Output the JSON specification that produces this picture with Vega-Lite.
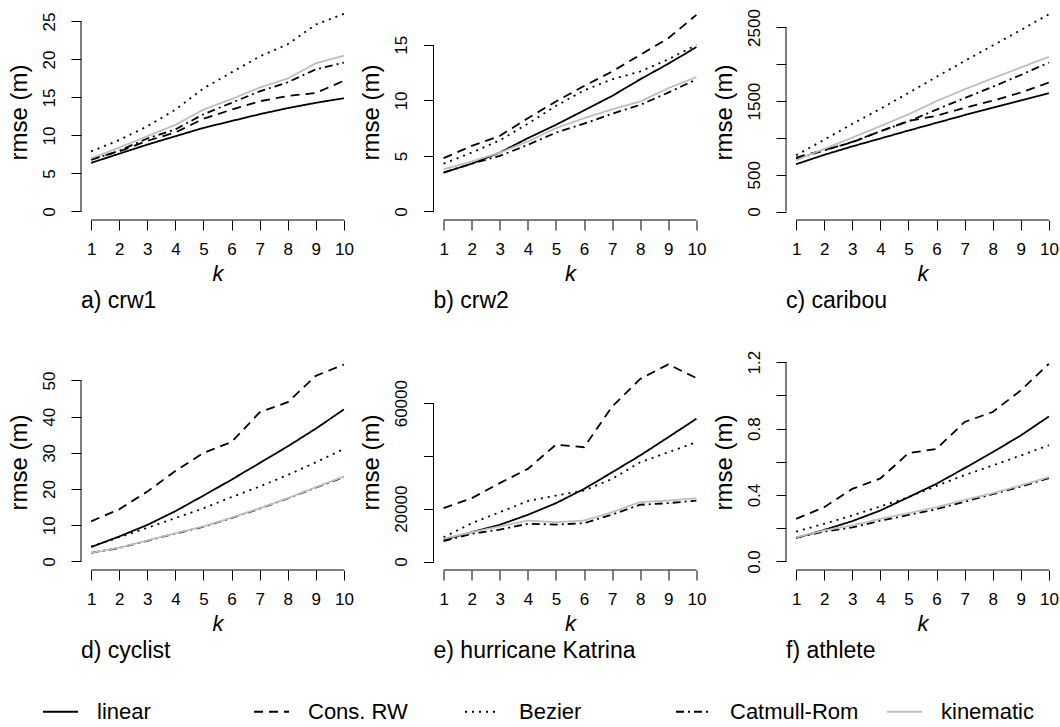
{
  "$schema": "https://vega.github.io/schema/vega-lite/v6.json",
  "padding": {"left": 7, "top": 4, "right": 0, "bottom": 0},
  "datasets": {
    "rmse": [
      {"panel":"a","method":"linear","k":1,"rmse":6.4},{"panel":"a","method":"linear","k":2,"rmse":7.6},{"panel":"a","method":"linear","k":3,"rmse":8.8},{"panel":"a","method":"linear","k":4,"rmse":9.9},{"panel":"a","method":"linear","k":5,"rmse":11.0},{"panel":"a","method":"linear","k":6,"rmse":11.9},{"panel":"a","method":"linear","k":7,"rmse":12.8},{"panel":"a","method":"linear","k":8,"rmse":13.6},{"panel":"a","method":"linear","k":9,"rmse":14.3},{"panel":"a","method":"linear","k":10,"rmse":14.9},
      {"panel":"a","method":"Cons. RW","k":1,"rmse":6.9},{"panel":"a","method":"Cons. RW","k":2,"rmse":7.9},{"panel":"a","method":"Cons. RW","k":3,"rmse":9.3},{"panel":"a","method":"Cons. RW","k":4,"rmse":10.4},{"panel":"a","method":"Cons. RW","k":5,"rmse":12.2},{"panel":"a","method":"Cons. RW","k":6,"rmse":13.4},{"panel":"a","method":"Cons. RW","k":7,"rmse":14.5},{"panel":"a","method":"Cons. RW","k":8,"rmse":15.2},{"panel":"a","method":"Cons. RW","k":9,"rmse":15.6},{"panel":"a","method":"Cons. RW","k":10,"rmse":17.2},
      {"panel":"a","method":"Bezier","k":1,"rmse":7.9},{"panel":"a","method":"Bezier","k":2,"rmse":9.4},{"panel":"a","method":"Bezier","k":3,"rmse":11.2},{"panel":"a","method":"Bezier","k":4,"rmse":13.4},{"panel":"a","method":"Bezier","k":5,"rmse":16.2},{"panel":"a","method":"Bezier","k":6,"rmse":18.3},{"panel":"a","method":"Bezier","k":7,"rmse":20.4},{"panel":"a","method":"Bezier","k":8,"rmse":22.0},{"panel":"a","method":"Bezier","k":9,"rmse":24.6},{"panel":"a","method":"Bezier","k":10,"rmse":26.0},
      {"panel":"a","method":"Catmull-Rom","k":1,"rmse":6.8},{"panel":"a","method":"Catmull-Rom","k":2,"rmse":8.0},{"panel":"a","method":"Catmull-Rom","k":3,"rmse":9.6},{"panel":"a","method":"Catmull-Rom","k":4,"rmse":10.8},{"panel":"a","method":"Catmull-Rom","k":5,"rmse":12.8},{"panel":"a","method":"Catmull-Rom","k":6,"rmse":14.3},{"panel":"a","method":"Catmull-Rom","k":7,"rmse":15.8},{"panel":"a","method":"Catmull-Rom","k":8,"rmse":17.0},{"panel":"a","method":"Catmull-Rom","k":9,"rmse":18.7},{"panel":"a","method":"Catmull-Rom","k":10,"rmse":19.6},
      {"panel":"a","method":"kinematic","k":1,"rmse":7.0},{"panel":"a","method":"kinematic","k":2,"rmse":8.4},{"panel":"a","method":"kinematic","k":3,"rmse":9.9},{"panel":"a","method":"kinematic","k":4,"rmse":11.4},{"panel":"a","method":"kinematic","k":5,"rmse":13.4},{"panel":"a","method":"kinematic","k":6,"rmse":14.8},{"panel":"a","method":"kinematic","k":7,"rmse":16.3},{"panel":"a","method":"kinematic","k":8,"rmse":17.5},{"panel":"a","method":"kinematic","k":9,"rmse":19.5},{"panel":"a","method":"kinematic","k":10,"rmse":20.5},

      {"panel":"b","method":"linear","k":1,"rmse":3.5},{"panel":"b","method":"linear","k":2,"rmse":4.3},{"panel":"b","method":"linear","k":3,"rmse":5.3},{"panel":"b","method":"linear","k":4,"rmse":6.6},{"panel":"b","method":"linear","k":5,"rmse":7.8},{"panel":"b","method":"linear","k":6,"rmse":9.1},{"panel":"b","method":"linear","k":7,"rmse":10.4},{"panel":"b","method":"linear","k":8,"rmse":11.9},{"panel":"b","method":"linear","k":9,"rmse":13.3},{"panel":"b","method":"linear","k":10,"rmse":14.8},
      {"panel":"b","method":"Cons. RW","k":1,"rmse":4.8},{"panel":"b","method":"Cons. RW","k":2,"rmse":5.9},{"panel":"b","method":"Cons. RW","k":3,"rmse":6.8},{"panel":"b","method":"Cons. RW","k":4,"rmse":8.4},{"panel":"b","method":"Cons. RW","k":5,"rmse":9.9},{"panel":"b","method":"Cons. RW","k":6,"rmse":11.3},{"panel":"b","method":"Cons. RW","k":7,"rmse":12.6},{"panel":"b","method":"Cons. RW","k":8,"rmse":14.1},{"panel":"b","method":"Cons. RW","k":9,"rmse":15.6},{"panel":"b","method":"Cons. RW","k":10,"rmse":17.7},
      {"panel":"b","method":"Bezier","k":1,"rmse":4.3},{"panel":"b","method":"Bezier","k":2,"rmse":5.3},{"panel":"b","method":"Bezier","k":3,"rmse":6.4},{"panel":"b","method":"Bezier","k":4,"rmse":7.9},{"panel":"b","method":"Bezier","k":5,"rmse":9.5},{"panel":"b","method":"Bezier","k":6,"rmse":10.9},{"panel":"b","method":"Bezier","k":7,"rmse":11.9},{"panel":"b","method":"Bezier","k":8,"rmse":12.6},{"panel":"b","method":"Bezier","k":9,"rmse":13.7},{"panel":"b","method":"Bezier","k":10,"rmse":15.0},
      {"panel":"b","method":"Catmull-Rom","k":1,"rmse":3.5},{"panel":"b","method":"Catmull-Rom","k":2,"rmse":4.3},{"panel":"b","method":"Catmull-Rom","k":3,"rmse":5.0},{"panel":"b","method":"Catmull-Rom","k":4,"rmse":6.0},{"panel":"b","method":"Catmull-Rom","k":5,"rmse":7.1},{"panel":"b","method":"Catmull-Rom","k":6,"rmse":7.9},{"panel":"b","method":"Catmull-Rom","k":7,"rmse":8.8},{"panel":"b","method":"Catmull-Rom","k":8,"rmse":9.6},{"panel":"b","method":"Catmull-Rom","k":9,"rmse":10.7},{"panel":"b","method":"Catmull-Rom","k":10,"rmse":11.9},
      {"panel":"b","method":"kinematic","k":1,"rmse":3.8},{"panel":"b","method":"kinematic","k":2,"rmse":4.5},{"panel":"b","method":"kinematic","k":3,"rmse":5.3},{"panel":"b","method":"kinematic","k":4,"rmse":6.3},{"panel":"b","method":"kinematic","k":5,"rmse":7.5},{"panel":"b","method":"kinematic","k":6,"rmse":8.4},{"panel":"b","method":"kinematic","k":7,"rmse":9.2},{"panel":"b","method":"kinematic","k":8,"rmse":9.9},{"panel":"b","method":"kinematic","k":9,"rmse":11.1},{"panel":"b","method":"kinematic","k":10,"rmse":12.1},

      {"panel":"c","method":"linear","k":1,"rmse":643},{"panel":"c","method":"linear","k":2,"rmse":770},{"panel":"c","method":"linear","k":3,"rmse":885},{"panel":"c","method":"linear","k":4,"rmse":992},{"panel":"c","method":"linear","k":5,"rmse":1100},{"panel":"c","method":"linear","k":6,"rmse":1205},{"panel":"c","method":"linear","k":7,"rmse":1310},{"panel":"c","method":"linear","k":8,"rmse":1410},{"panel":"c","method":"linear","k":9,"rmse":1510},{"panel":"c","method":"linear","k":10,"rmse":1608},
      {"panel":"c","method":"Cons. RW","k":1,"rmse":734},{"panel":"c","method":"Cons. RW","k":2,"rmse":835},{"panel":"c","method":"Cons. RW","k":3,"rmse":940},{"panel":"c","method":"Cons. RW","k":4,"rmse":1090},{"panel":"c","method":"Cons. RW","k":5,"rmse":1230},{"panel":"c","method":"Cons. RW","k":6,"rmse":1300},{"panel":"c","method":"Cons. RW","k":7,"rmse":1410},{"panel":"c","method":"Cons. RW","k":8,"rmse":1505},{"panel":"c","method":"Cons. RW","k":9,"rmse":1617},{"panel":"c","method":"Cons. RW","k":10,"rmse":1753},
      {"panel":"c","method":"Bezier","k":1,"rmse":765},{"panel":"c","method":"Bezier","k":2,"rmse":975},{"panel":"c","method":"Bezier","k":3,"rmse":1190},{"panel":"c","method":"Bezier","k":4,"rmse":1395},{"panel":"c","method":"Bezier","k":5,"rmse":1610},{"panel":"c","method":"Bezier","k":6,"rmse":1830},{"panel":"c","method":"Bezier","k":7,"rmse":2045},{"panel":"c","method":"Bezier","k":8,"rmse":2255},{"panel":"c","method":"Bezier","k":9,"rmse":2465},{"panel":"c","method":"Bezier","k":10,"rmse":2680},
      {"panel":"c","method":"Catmull-Rom","k":1,"rmse":711},{"panel":"c","method":"Catmull-Rom","k":2,"rmse":830},{"panel":"c","method":"Catmull-Rom","k":3,"rmse":945},{"panel":"c","method":"Catmull-Rom","k":4,"rmse":1090},{"panel":"c","method":"Catmull-Rom","k":5,"rmse":1225},{"panel":"c","method":"Catmull-Rom","k":6,"rmse":1385},{"panel":"c","method":"Catmull-Rom","k":7,"rmse":1540},{"panel":"c","method":"Catmull-Rom","k":8,"rmse":1695},{"panel":"c","method":"Catmull-Rom","k":9,"rmse":1855},{"panel":"c","method":"Catmull-Rom","k":10,"rmse":2024},
      {"panel":"c","method":"kinematic","k":1,"rmse":697},{"panel":"c","method":"kinematic","k":2,"rmse":850},{"panel":"c","method":"kinematic","k":3,"rmse":1005},{"panel":"c","method":"kinematic","k":4,"rmse":1160},{"panel":"c","method":"kinematic","k":5,"rmse":1320},{"panel":"c","method":"kinematic","k":6,"rmse":1500},{"panel":"c","method":"kinematic","k":7,"rmse":1660},{"panel":"c","method":"kinematic","k":8,"rmse":1810},{"panel":"c","method":"kinematic","k":9,"rmse":1957},{"panel":"c","method":"kinematic","k":10,"rmse":2101},

      {"panel":"d","method":"linear","k":1,"rmse":4.0},{"panel":"d","method":"linear","k":2,"rmse":6.9},{"panel":"d","method":"linear","k":3,"rmse":10.1},{"panel":"d","method":"linear","k":4,"rmse":13.9},{"panel":"d","method":"linear","k":5,"rmse":18.2},{"panel":"d","method":"linear","k":6,"rmse":22.6},{"panel":"d","method":"linear","k":7,"rmse":27.2},{"panel":"d","method":"linear","k":8,"rmse":31.8},{"panel":"d","method":"linear","k":9,"rmse":36.7},{"panel":"d","method":"linear","k":10,"rmse":42.0},
      {"panel":"d","method":"Cons. RW","k":1,"rmse":11.1},{"panel":"d","method":"Cons. RW","k":2,"rmse":14.4},{"panel":"d","method":"Cons. RW","k":3,"rmse":19.3},{"panel":"d","method":"Cons. RW","k":4,"rmse":25.0},{"panel":"d","method":"Cons. RW","k":5,"rmse":30.0},{"panel":"d","method":"Cons. RW","k":6,"rmse":33.0},{"panel":"d","method":"Cons. RW","k":7,"rmse":41.2},{"panel":"d","method":"Cons. RW","k":8,"rmse":44.0},{"panel":"d","method":"Cons. RW","k":9,"rmse":51.3},{"panel":"d","method":"Cons. RW","k":10,"rmse":54.4},
      {"panel":"d","method":"Bezier","k":1,"rmse":4.1},{"panel":"d","method":"Bezier","k":2,"rmse":6.7},{"panel":"d","method":"Bezier","k":3,"rmse":9.3},{"panel":"d","method":"Bezier","k":4,"rmse":12.0},{"panel":"d","method":"Bezier","k":5,"rmse":14.7},{"panel":"d","method":"Bezier","k":6,"rmse":17.8},{"panel":"d","method":"Bezier","k":7,"rmse":20.7},{"panel":"d","method":"Bezier","k":8,"rmse":23.9},{"panel":"d","method":"Bezier","k":9,"rmse":27.4},{"panel":"d","method":"Bezier","k":10,"rmse":31.1},
      {"panel":"d","method":"Catmull-Rom","k":1,"rmse":2.4},{"panel":"d","method":"Catmull-Rom","k":2,"rmse":3.7},{"panel":"d","method":"Catmull-Rom","k":3,"rmse":5.7},{"panel":"d","method":"Catmull-Rom","k":4,"rmse":7.7},{"panel":"d","method":"Catmull-Rom","k":5,"rmse":9.6},{"panel":"d","method":"Catmull-Rom","k":6,"rmse":12.0},{"panel":"d","method":"Catmull-Rom","k":7,"rmse":14.6},{"panel":"d","method":"Catmull-Rom","k":8,"rmse":17.4},{"panel":"d","method":"Catmull-Rom","k":9,"rmse":20.4},{"panel":"d","method":"Catmull-Rom","k":10,"rmse":23.3},
      {"panel":"d","method":"kinematic","k":1,"rmse":2.4},{"panel":"d","method":"kinematic","k":2,"rmse":3.8},{"panel":"d","method":"kinematic","k":3,"rmse":5.8},{"panel":"d","method":"kinematic","k":4,"rmse":7.8},{"panel":"d","method":"kinematic","k":5,"rmse":9.7},{"panel":"d","method":"kinematic","k":6,"rmse":12.1},{"panel":"d","method":"kinematic","k":7,"rmse":14.7},{"panel":"d","method":"kinematic","k":8,"rmse":17.5},{"panel":"d","method":"kinematic","k":9,"rmse":20.5},{"panel":"d","method":"kinematic","k":10,"rmse":23.5},

      {"panel":"e","method":"linear","k":1,"rmse":8200},{"panel":"e","method":"linear","k":2,"rmse":11100},{"panel":"e","method":"linear","k":3,"rmse":13900},{"panel":"e","method":"linear","k":4,"rmse":17700},{"panel":"e","method":"linear","k":5,"rmse":22100},{"panel":"e","method":"linear","k":6,"rmse":27500},{"panel":"e","method":"linear","k":7,"rmse":33800},{"panel":"e","method":"linear","k":8,"rmse":40200},{"panel":"e","method":"linear","k":9,"rmse":47100},{"panel":"e","method":"linear","k":10,"rmse":54100},
      {"panel":"e","method":"Cons. RW","k":1,"rmse":20200},{"panel":"e","method":"Cons. RW","k":2,"rmse":24000},{"panel":"e","method":"Cons. RW","k":3,"rmse":29700},{"panel":"e","method":"Cons. RW","k":4,"rmse":35100},{"panel":"e","method":"Cons. RW","k":5,"rmse":44300},{"panel":"e","method":"Cons. RW","k":6,"rmse":43300},{"panel":"e","method":"Cons. RW","k":7,"rmse":58700},{"panel":"e","method":"Cons. RW","k":8,"rmse":69200},{"panel":"e","method":"Cons. RW","k":9,"rmse":74700},{"panel":"e","method":"Cons. RW","k":10,"rmse":69500},
      {"panel":"e","method":"Bezier","k":1,"rmse":9200},{"panel":"e","method":"Bezier","k":2,"rmse":14500},{"panel":"e","method":"Bezier","k":3,"rmse":18700},{"panel":"e","method":"Bezier","k":4,"rmse":22900},{"panel":"e","method":"Bezier","k":5,"rmse":25000},{"panel":"e","method":"Bezier","k":6,"rmse":26900},{"panel":"e","method":"Bezier","k":7,"rmse":31300},{"panel":"e","method":"Bezier","k":8,"rmse":37600},{"panel":"e","method":"Bezier","k":9,"rmse":41400},{"panel":"e","method":"Bezier","k":10,"rmse":45200},
      {"panel":"e","method":"Catmull-Rom","k":1,"rmse":7700},{"panel":"e","method":"Catmull-Rom","k":2,"rmse":10500},{"panel":"e","method":"Catmull-Rom","k":3,"rmse":12100},{"panel":"e","method":"Catmull-Rom","k":4,"rmse":14300},{"panel":"e","method":"Catmull-Rom","k":5,"rmse":14000},{"panel":"e","method":"Catmull-Rom","k":6,"rmse":14500},{"panel":"e","method":"Catmull-Rom","k":7,"rmse":17800},{"panel":"e","method":"Catmull-Rom","k":8,"rmse":21500},{"panel":"e","method":"Catmull-Rom","k":9,"rmse":22100},{"panel":"e","method":"Catmull-Rom","k":10,"rmse":23100},
      {"panel":"e","method":"kinematic","k":1,"rmse":8600},{"panel":"e","method":"kinematic","k":2,"rmse":11100},{"panel":"e","method":"kinematic","k":3,"rmse":13300},{"panel":"e","method":"kinematic","k":4,"rmse":15500},{"panel":"e","method":"kinematic","k":5,"rmse":14900},{"panel":"e","method":"kinematic","k":6,"rmse":15500},{"panel":"e","method":"kinematic","k":7,"rmse":18700},{"panel":"e","method":"kinematic","k":8,"rmse":22500},{"panel":"e","method":"kinematic","k":9,"rmse":23100},{"panel":"e","method":"kinematic","k":10,"rmse":24000},

      {"panel":"f","method":"linear","k":1,"rmse":0.142},{"panel":"f","method":"linear","k":2,"rmse":0.19},{"panel":"f","method":"linear","k":3,"rmse":0.243},{"panel":"f","method":"linear","k":4,"rmse":0.307},{"panel":"f","method":"linear","k":5,"rmse":0.387},{"panel":"f","method":"linear","k":6,"rmse":0.468},{"panel":"f","method":"linear","k":7,"rmse":0.562},{"panel":"f","method":"linear","k":8,"rmse":0.658},{"panel":"f","method":"linear","k":9,"rmse":0.759},{"panel":"f","method":"linear","k":10,"rmse":0.873},
      {"panel":"f","method":"Cons. RW","k":1,"rmse":0.257},{"panel":"f","method":"Cons. RW","k":2,"rmse":0.327},{"panel":"f","method":"Cons. RW","k":3,"rmse":0.437},{"panel":"f","method":"Cons. RW","k":4,"rmse":0.5},{"panel":"f","method":"Cons. RW","k":5,"rmse":0.652},{"panel":"f","method":"Cons. RW","k":6,"rmse":0.678},{"panel":"f","method":"Cons. RW","k":7,"rmse":0.84},{"panel":"f","method":"Cons. RW","k":8,"rmse":0.9},{"panel":"f","method":"Cons. RW","k":9,"rmse":1.03},{"panel":"f","method":"Cons. RW","k":10,"rmse":1.19},
      {"panel":"f","method":"Bezier","k":1,"rmse":0.18},{"panel":"f","method":"Bezier","k":2,"rmse":0.227},{"panel":"f","method":"Bezier","k":3,"rmse":0.277},{"panel":"f","method":"Bezier","k":4,"rmse":0.331},{"panel":"f","method":"Bezier","k":5,"rmse":0.387},{"panel":"f","method":"Bezier","k":6,"rmse":0.455},{"panel":"f","method":"Bezier","k":7,"rmse":0.52},{"panel":"f","method":"Bezier","k":8,"rmse":0.578},{"panel":"f","method":"Bezier","k":9,"rmse":0.638},{"panel":"f","method":"Bezier","k":10,"rmse":0.7},
      {"panel":"f","method":"Catmull-Rom","k":1,"rmse":0.144},{"panel":"f","method":"Catmull-Rom","k":2,"rmse":0.18},{"panel":"f","method":"Catmull-Rom","k":3,"rmse":0.205},{"panel":"f","method":"Catmull-Rom","k":4,"rmse":0.245},{"panel":"f","method":"Catmull-Rom","k":5,"rmse":0.28},{"panel":"f","method":"Catmull-Rom","k":6,"rmse":0.315},{"panel":"f","method":"Catmull-Rom","k":7,"rmse":0.36},{"panel":"f","method":"Catmull-Rom","k":8,"rmse":0.405},{"panel":"f","method":"Catmull-Rom","k":9,"rmse":0.45},{"panel":"f","method":"Catmull-Rom","k":10,"rmse":0.502},
      {"panel":"f","method":"kinematic","k":1,"rmse":0.146},{"panel":"f","method":"kinematic","k":2,"rmse":0.187},{"panel":"f","method":"kinematic","k":3,"rmse":0.217},{"panel":"f","method":"kinematic","k":4,"rmse":0.257},{"panel":"f","method":"kinematic","k":5,"rmse":0.291},{"panel":"f","method":"kinematic","k":6,"rmse":0.327},{"panel":"f","method":"kinematic","k":7,"rmse":0.371},{"panel":"f","method":"kinematic","k":8,"rmse":0.411},{"panel":"f","method":"kinematic","k":9,"rmse":0.458},{"panel":"f","method":"kinematic","k":10,"rmse":0.508}
    ]
  },
  "columns": 3,
  "bounds": "flush",
  "spacing": {"row": 134, "column": 79.5},
  "concat": [
    {
      "width": 273, "height": 216,
      "title": {"text": "a) crw1", "orient": "bottom", "anchor": "start", "frame": "group", "offset": 6},
      "layer": [
        {"data": {"name": "rmse"}, "transform": [{"filter": "datum.panel === 'a'"}],
         "mark": {"type": "line", "strokeWidth": 1.8},
         "encoding": {
           "x": {"field": "k", "type": "quantitative", "scale": {"domain": [0.64, 10.36], "nice": false, "zero": false}, "axis": {"values": [1,2,3,4,5,6,7,8,9,10], "tickCount": 20, "format": "d", "title": "k", "labelOverlap": false, "labelBound": false, "labelFlush": false}},
           "y": {"field": "rmse", "type": "quantitative", "scale": {"domain": [-1.12, 27.3], "nice": false, "zero": false}, "axis": {"values": [0,5,10,15,20,25], "tickCount": 20, "format": "d", "title": "rmse (m)", "labelOverlap": false}},
           "color": {"field": "method", "type": "nominal", "scale": {"domain": ["linear","Cons. RW","Bezier","Catmull-Rom","kinematic"], "range": ["black","black","black","black","#bebebe"]}, "legend": {"title": null, "orient": "none", "legendX": -39, "legendY": 689, "direction": "horizontal", "columns": 5}},
           "strokeDash": {"field": "method", "type": "nominal", "scale": {"domain": ["linear","Cons. RW","Bezier","Catmull-Rom","kinematic"], "range": [[1,0],[9,6],[2,5],[8,4,2,4],[1,0]]}, "legend": {"title": null, "orient": "none", "legendX": -39, "legendY": 689, "direction": "horizontal", "columns": 5}}
         }},
        {"data": {"values": [{}]}, "mark": {"type": "rule", "color": "black"}, "encoding": {"x": {"datum": 0.64}, "y": {"datum": 0}, "y2": {"datum": 25}}},
        {"data": {"values": [{}]}, "mark": {"type": "rule", "color": "black"}, "encoding": {"x": {"datum": 1}, "x2": {"datum": 10}, "y": {"datum": -1.12}}}
      ]
    },
    {
      "width": 273, "height": 216,
      "title": {"text": "b) crw2", "orient": "bottom", "anchor": "start", "frame": "group", "offset": 6},
      "layer": [
        {"data": {"name": "rmse"}, "transform": [{"filter": "datum.panel === 'b'"}],
         "mark": {"type": "line", "strokeWidth": 1.8},
         "encoding": {
           "x": {"field": "k", "type": "quantitative", "scale": {"domain": [0.64, 10.36], "nice": false, "zero": false}, "axis": {"values": [1,2,3,4,5,6,7,8,9,10], "tickCount": 20, "format": "d", "title": "k", "labelOverlap": false, "labelBound": false, "labelFlush": false}},
           "y": {"field": "rmse", "type": "quantitative", "scale": {"domain": [-0.77, 18.68], "nice": false, "zero": false}, "axis": {"values": [0,5,10,15], "tickCount": 20, "format": "d", "title": "rmse (m)", "labelOverlap": false}},
           "color": {"field": "method", "type": "nominal", "scale": {"domain": ["linear","Cons. RW","Bezier","Catmull-Rom","kinematic"], "range": ["black","black","black","black","#bebebe"]}, "legend": {"title": null, "orient": "none", "legendX": -39, "legendY": 689, "direction": "horizontal", "columns": 5}},
           "strokeDash": {"field": "method", "type": "nominal", "scale": {"domain": ["linear","Cons. RW","Bezier","Catmull-Rom","kinematic"], "range": [[1,0],[9,6],[2,5],[8,4,2,4],[1,0]]}, "legend": {"title": null, "orient": "none", "legendX": -39, "legendY": 689, "direction": "horizontal", "columns": 5}}
         }},
        {"data": {"values": [{}]}, "mark": {"type": "rule", "color": "black"}, "encoding": {"x": {"datum": 0.64}, "y": {"datum": 0}, "y2": {"datum": 15}}},
        {"data": {"values": [{}]}, "mark": {"type": "rule", "color": "black"}, "encoding": {"x": {"datum": 1}, "x2": {"datum": 10}, "y": {"datum": -0.77}}}
      ]
    },
    {
      "width": 273, "height": 216,
      "title": {"text": "c) caribou", "orient": "bottom", "anchor": "start", "frame": "group", "offset": 6},
      "layer": [
        {"data": {"name": "rmse"}, "transform": [{"filter": "datum.panel === 'c'"}],
         "mark": {"type": "line", "strokeWidth": 1.8},
         "encoding": {
           "x": {"field": "k", "type": "quantitative", "scale": {"domain": [0.64, 10.36], "nice": false, "zero": false}, "axis": {"values": [1,2,3,4,5,6,7,8,9,10], "tickCount": 20, "format": "d", "title": "k", "labelOverlap": false, "labelBound": false, "labelFlush": false}},
           "y": {"field": "rmse", "type": "quantitative", "scale": {"domain": [-115, 2819], "nice": false, "zero": false}, "axis": {"values": [0,500,1000,1500,2000,2500], "tickCount": 20, "format": "d", "labelExpr": "datum.value == 1000 || datum.value == 2000 ? '' : datum.label", "title": "rmse (m)", "labelOverlap": false}},
           "color": {"field": "method", "type": "nominal", "scale": {"domain": ["linear","Cons. RW","Bezier","Catmull-Rom","kinematic"], "range": ["black","black","black","black","#bebebe"]}, "legend": {"title": null, "orient": "none", "legendX": -39, "legendY": 689, "direction": "horizontal", "columns": 5}},
           "strokeDash": {"field": "method", "type": "nominal", "scale": {"domain": ["linear","Cons. RW","Bezier","Catmull-Rom","kinematic"], "range": [[1,0],[9,6],[2,5],[8,4,2,4],[1,0]]}, "legend": {"title": null, "orient": "none", "legendX": -39, "legendY": 689, "direction": "horizontal", "columns": 5}}
         }},
        {"data": {"values": [{}]}, "mark": {"type": "rule", "color": "black"}, "encoding": {"x": {"datum": 0.64}, "y": {"datum": 0}, "y2": {"datum": 2500}}},
        {"data": {"values": [{}]}, "mark": {"type": "rule", "color": "black"}, "encoding": {"x": {"datum": 1}, "x2": {"datum": 10}, "y": {"datum": -115}}}
      ]
    },
    {
      "width": 273, "height": 216,
      "title": {"text": "d) cyclist", "orient": "bottom", "anchor": "start", "frame": "group", "offset": 6},
      "layer": [
        {"data": {"name": "rmse"}, "transform": [{"filter": "datum.panel === 'd'"}],
         "mark": {"type": "line", "strokeWidth": 1.8},
         "encoding": {
           "x": {"field": "k", "type": "quantitative", "scale": {"domain": [0.64, 10.36], "nice": false, "zero": false}, "axis": {"values": [1,2,3,4,5,6,7,8,9,10], "tickCount": 20, "format": "d", "title": "k", "labelOverlap": false, "labelBound": false, "labelFlush": false}},
           "y": {"field": "rmse", "type": "quantitative", "scale": {"domain": [-2.35, 57.32], "nice": false, "zero": false}, "axis": {"values": [0,10,20,30,40,50], "tickCount": 20, "format": "d", "title": "rmse (m)", "labelOverlap": false}},
           "color": {"field": "method", "type": "nominal", "scale": {"domain": ["linear","Cons. RW","Bezier","Catmull-Rom","kinematic"], "range": ["black","black","black","black","#bebebe"]}, "legend": {"title": null, "orient": "none", "legendX": -39, "legendY": 689, "direction": "horizontal", "columns": 5}},
           "strokeDash": {"field": "method", "type": "nominal", "scale": {"domain": ["linear","Cons. RW","Bezier","Catmull-Rom","kinematic"], "range": [[1,0],[9,6],[2,5],[8,4,2,4],[1,0]]}, "legend": {"title": null, "orient": "none", "legendX": -39, "legendY": 689, "direction": "horizontal", "columns": 5}}
         }},
        {"data": {"values": [{}]}, "mark": {"type": "rule", "color": "black"}, "encoding": {"x": {"datum": 0.64}, "y": {"datum": 0}, "y2": {"datum": 50}}},
        {"data": {"values": [{}]}, "mark": {"type": "rule", "color": "black"}, "encoding": {"x": {"datum": 1}, "x2": {"datum": 10}, "y": {"datum": -2.35}}}
      ]
    },
    {
      "width": 273, "height": 216,
      "title": {"text": "e) hurricane Katrina", "orient": "bottom", "anchor": "start", "frame": "group", "offset": 6},
      "layer": [
        {"data": {"name": "rmse"}, "transform": [{"filter": "datum.panel === 'e'"}],
         "mark": {"type": "line", "strokeWidth": 1.8},
         "encoding": {
           "x": {"field": "k", "type": "quantitative", "scale": {"domain": [0.64, 10.36], "nice": false, "zero": false}, "axis": {"values": [1,2,3,4,5,6,7,8,9,10], "tickCount": 20, "format": "d", "title": "k", "labelOverlap": false, "labelBound": false, "labelFlush": false}},
           "y": {"field": "rmse", "type": "quantitative", "scale": {"domain": [-3220, 78630], "nice": false, "zero": false}, "axis": {"values": [0,20000,40000,60000], "tickCount": 20, "format": "d", "labelExpr": "datum.value == 40000 ? '' : datum.label", "title": "rmse (m)", "labelOverlap": false}},
           "color": {"field": "method", "type": "nominal", "scale": {"domain": ["linear","Cons. RW","Bezier","Catmull-Rom","kinematic"], "range": ["black","black","black","black","#bebebe"]}, "legend": {"title": null, "orient": "none", "legendX": -39, "legendY": 689, "direction": "horizontal", "columns": 5}},
           "strokeDash": {"field": "method", "type": "nominal", "scale": {"domain": ["linear","Cons. RW","Bezier","Catmull-Rom","kinematic"], "range": [[1,0],[9,6],[2,5],[8,4,2,4],[1,0]]}, "legend": {"title": null, "orient": "none", "legendX": -39, "legendY": 689, "direction": "horizontal", "columns": 5}}
         }},
        {"data": {"values": [{}]}, "mark": {"type": "rule", "color": "black"}, "encoding": {"x": {"datum": 0.64}, "y": {"datum": 0}, "y2": {"datum": 60000}}},
        {"data": {"values": [{}]}, "mark": {"type": "rule", "color": "black"}, "encoding": {"x": {"datum": 1}, "x2": {"datum": 10}, "y": {"datum": -3220}}}
      ]
    },
    {
      "width": 273, "height": 216,
      "title": {"text": "f) athlete", "orient": "bottom", "anchor": "start", "frame": "group", "offset": 6},
      "layer": [
        {"data": {"name": "rmse"}, "transform": [{"filter": "datum.panel === 'f'"}],
         "mark": {"type": "line", "strokeWidth": 1.8},
         "encoding": {
           "x": {"field": "k", "type": "quantitative", "scale": {"domain": [0.64, 10.36], "nice": false, "zero": false}, "axis": {"values": [1,2,3,4,5,6,7,8,9,10], "tickCount": 20, "format": "d", "title": "k", "labelOverlap": false, "labelBound": false, "labelFlush": false}},
           "y": {"field": "rmse", "type": "quantitative", "scale": {"domain": [-0.0512, 1.249], "nice": false, "zero": false}, "axis": {"values": [0,0.2,0.4,0.6,0.8,1.0,1.2], "tickCount": 20, "format": ".1f", "labelExpr": "datum.value == 0.2 || datum.value == 0.6 || datum.value == 1 ? '' : datum.label", "title": "rmse (m)", "labelOverlap": false}},
           "color": {"field": "method", "type": "nominal", "scale": {"domain": ["linear","Cons. RW","Bezier","Catmull-Rom","kinematic"], "range": ["black","black","black","black","#bebebe"]}, "legend": {"title": null, "orient": "none", "legendX": -39, "legendY": 689, "direction": "horizontal", "columns": 5}},
           "strokeDash": {"field": "method", "type": "nominal", "scale": {"domain": ["linear","Cons. RW","Bezier","Catmull-Rom","kinematic"], "range": [[1,0],[9,6],[2,5],[8,4,2,4],[1,0]]}, "legend": {"title": null, "orient": "none", "legendX": -39, "legendY": 689, "direction": "horizontal", "columns": 5}}
         }},
        {"data": {"values": [{}]}, "mark": {"type": "rule", "color": "black"}, "encoding": {"x": {"datum": 0.64}, "y": {"datum": 0}, "y2": {"datum": 1.2}}},
        {"data": {"values": [{}]}, "mark": {"type": "rule", "color": "black"}, "encoding": {"x": {"datum": 1}, "x2": {"datum": 10}, "y": {"datum": -0.0512}}}
      ]
    }
  ],
  "config": {
    "font": "Liberation Sans",
    "view": {"stroke": null},
    "background": "white",
    "title": {"fontSize": 23, "fontWeight": "normal", "color": "black", "font": "Liberation Sans"},
    "axis": {"domain": false, "grid": false, "tickColor": "black", "tickSize": 10, "tickWidth": 1, "labelColor": "black", "labelFontSize": 17, "labelFlush": false, "labelOverlap": false, "titleColor": "black", "titleFontWeight": "normal", "labelFont": "Liberation Sans", "titleFont": "Liberation Sans"},
    "axisX": {"labelPadding": 11, "titleFontSize": 22, "titleFontStyle": "italic", "titlePadding": 6},
    "axisY": {"labelAngle": 270, "labelAlign": "center", "labelBaseline": "bottom", "labelPadding": 13, "titleFontSize": 24, "titlePadding": 9},
    "legend": {"symbolType": "stroke", "symbolSize": 1225, "symbolStrokeWidth": 1.8, "labelFontSize": 22, "labelColor": "black", "labelOffset": 18, "columnPadding": 24, "gridAlign": "all", "padding": 0, "labelLimit": 300, "labelFont": "Liberation Sans"}
  }
}
